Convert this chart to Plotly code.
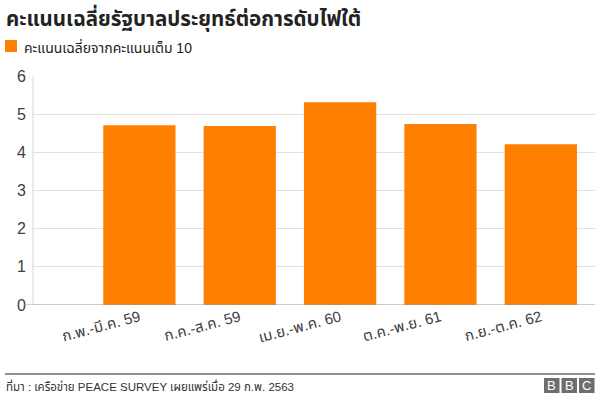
import plotly.graph_objects as go

categories = ["ก.พ.-มี.ค. 59", "ก.ค.-ส.ค. 59", "เม.ย.-พ.ค. 60", "ต.ค.-พ.ย. 61", "ก.ย.-ต.ค. 62"]
scores = [4.71, 4.69, 5.31, 4.74, 4.21]
series_name = "คะแนนเฉลี่ยจากคะแนนเต็ม 10"
title_text = "คะแนนเฉลี่ยรัฐบาลประยุทธ์ต่อการดับไฟใต้"
source_text = "ที่มา : เครือข่าย PEACE SURVEY เผยแพร่เมื่อ 29 ก.พ. 2563"
y_ticks = [0, 1, 2, 3, 4, 5, 6]

ORANGE = "#FF7F00"
FONT = "Liberation Sans, Arial, Noto Sans Thai, sans-serif"

W, H = 599, 408
L, R, T, B = 33, 4, 76, 103

fig = go.Figure()
fig.add_trace(go.Bar(
    x=list(range(len(categories))), y=scores, name=series_name,
    marker=dict(color=ORANGE, line=dict(width=0)), width=0.72,
    showlegend=False, hoverinfo="skip",
))

fig.update_layout(
    width=W, height=H,
    margin=dict(l=L, r=R, t=T, b=B),
    paper_bgcolor="white", plot_bgcolor="white",
    font=dict(family=FONT, color="#404040"),
    bargap=0.28,
    xaxis=dict(
        range=[-1.06, 4.54],
        tickmode="array", tickvals=list(range(len(categories))), ticktext=categories,
        tickangle=-15, tickfont=dict(size=15, color="#404040"),
        showgrid=False, zeroline=False, showline=False, ticks="",
    ),
    yaxis=dict(
        range=[0, 6], tickvals=y_ticks,
        tickfont=dict(size=16, color="#404040"),
        showgrid=True, gridcolor="#e0e0e0", gridwidth=1,
        zeroline=False, showline=False, ticks="", ticklabelstandoff=6,
    ),
)

shapes = []
# y axis line
shapes.append(dict(type="line", xref="paper", yref="paper", x0=0, x1=0, y0=0, y1=1,
                   line=dict(color="#d8d8d8", width=1)))
# baseline extending slightly left
shapes.append(dict(type="line", xref="paper", yref="y", x0=-9 / (W - L - R), x1=1, y0=0, y1=0,
                   line=dict(color="#999999", width=1)))
# legend swatch
px = lambda x: (x - L) / (W - L - R)
py = lambda y: (H - B - y) / (H - T - B)
shapes.append(dict(type="rect", xref="paper", yref="paper", x0=px(5), x1=px(17), y0=py(52), y1=py(40),
                   fillcolor=ORANGE, line=dict(width=0)))
# footer rule
shapes.append(dict(type="line", xref="paper", yref="paper", x0=px(5), x1=px(595), y0=py(374), y1=py(374),
                   line=dict(color="#222222", width=1)))
# BBC blocks
annotations = []
for i, letter in enumerate("BBC"):
    x0 = 544 + i * 17.5
    shapes.append(dict(type="rect", xref="paper", yref="paper", x0=px(x0), x1=px(x0 + 15.5),
                       y0=py(393), y1=py(378), fillcolor="#6e6e6e", line=dict(width=0)))
    annotations.append(dict(text=letter, xref="paper", yref="paper", x=px(x0 + 7.75), y=py(385.5),
                            showarrow=False, font=dict(family="Liberation Sans, Arial", size=13, color="white"),
                            xanchor="center", yanchor="middle"))

annotations.append(dict(text="<b>" + title_text + "</b>", xref="paper", yref="paper", x=px(4), y=py(18),
                        xanchor="left", yanchor="middle", showarrow=False,
                        font=dict(size=20.5, color="#222222")))
annotations.append(dict(text=series_name, xref="paper", yref="paper", x=px(22), y=py(47),
                        xanchor="left", yanchor="middle", showarrow=False,
                        font=dict(size=14, color="#222222")))
annotations.append(dict(text=source_text, xref="paper", yref="paper", x=px(4), y=py(386),
                        xanchor="left", yanchor="middle", showarrow=False,
                        font=dict(size=11.5, color="#333333")))

fig.update_layout(shapes=shapes, annotations=annotations)
fig.write_html("out.html")
